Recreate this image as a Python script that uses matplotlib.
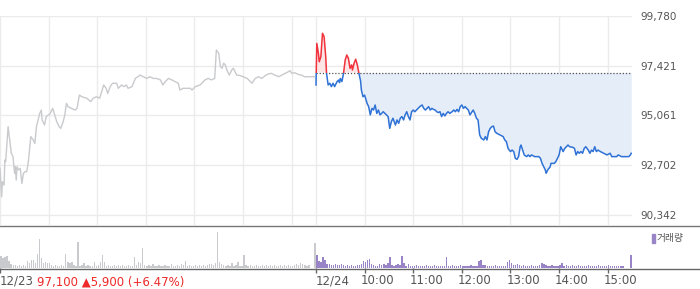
import numpy as np
import matplotlib.pyplot as plt
import matplotlib.transforms as mtransforms
from matplotlib.patches import Rectangle
from matplotlib.lines import Line2D

# === Data (minutes after 09:00) ===
BASE = 97100
price_ticks = [90342, 92702, 95061, 97421, 99780]

# 12/23 intraday
t1 = [0, 2, 3, 5, 6, 7, 10, 12, 14, 16, 18, 19, 20, 21, 23, 25, 27, 29, 31, 33, 35, 38, 41, 43, 45,
      49, 51, 52, 55, 57, 60, 62, 65, 67, 70, 73, 75, 78, 80, 82, 84, 88, 93, 95, 98, 101, 107, 112,
      115, 119, 123, 128, 131, 133, 136, 139, 144, 146, 150, 153, 156, 158, 163, 167, 173, 177, 181,
      185, 189, 193, 198, 201, 204, 208, 212, 216, 220, 222, 226, 230, 235, 237, 241, 247, 253, 257,
      261, 265, 267, 270, 272, 274, 276, 278, 280, 283, 286, 288, 292, 296, 300, 305, 309, 311, 315,
      319, 323, 327, 331, 335, 339, 344, 348, 352, 356, 358, 360, 364, 368, 372, 376, 380, 388]
p1 = [92550, 91210, 91920, 91760, 92950, 92870, 94530, 93900, 93270, 93110, 92320, 92630, 92000,
      92630, 92480, 92550, 91840, 92320, 92400, 92400, 92870, 94060, 93900, 93740, 94530, 95160,
      95320, 94850, 94610, 95010, 95090, 95160, 95400, 95160, 94770, 94530, 94450, 94770, 95090,
      95640, 95480, 95400, 95320, 95400, 96030, 95950, 95880, 95720, 95880, 95950, 95880, 96510,
      96350, 96110, 96430, 96590, 96590, 96350, 96510, 96430, 96510, 96350, 96430, 96820, 96980,
      96900, 96820, 96900, 96820, 96820, 96750, 96510, 96670, 96820, 96750, 96670, 96590, 96270,
      96350, 96350, 96350, 96270, 96430, 96510, 96750, 96820, 96750, 96820, 98170, 98010, 97380,
      97300, 97540, 97460, 97220, 96980, 97220, 97300, 96980, 96960, 96900, 96820, 96670, 96590,
      96820, 96900, 96820, 96940, 97030, 97060, 96980, 96900, 96980, 97060, 97140, 97190, 97060,
      97090, 97010, 96980, 96900, 96900, 96900]

# 12/24 intraday
t2 = [0, 1, 3, 4, 6, 8, 10, 12, 13, 15, 17, 19, 21, 23, 26, 28, 29, 30, 32, 34, 36, 38, 40, 42,
      44, 45, 47, 49, 51, 53, 55, 56, 58, 60, 63, 65, 67, 69, 71, 73, 75, 77, 79, 81, 83, 85, 87,
      89, 91, 93, 95, 98, 100, 102, 104, 106, 108, 110, 112, 114, 116, 118, 120, 122, 124, 126,
      128, 131, 133, 135, 137, 139, 141, 143, 145, 147, 149, 151, 153, 155, 157, 159, 161, 163,
      165, 168, 170, 172, 174, 176, 178, 180, 182, 184, 186, 188, 190, 194, 196, 198, 200, 202,
      204, 207, 209, 211, 213, 215, 217, 219, 221, 223, 227, 231, 233, 235, 237, 240, 242, 244,
      246, 248, 250, 252, 253, 255, 257, 260, 262, 264, 266, 270, 275, 277, 279, 281, 283, 284,
      286, 289, 290, 294, 296, 298, 300, 302, 305, 307, 311, 313, 317, 319, 321, 323, 325, 327,
      329, 331, 333, 336, 338, 340, 342, 344, 346, 348, 351, 355, 359, 363, 365, 371, 373, 377,
      386, 388, 389]
p2 = [96510, 98480, 98010, 97610, 97850, 98960, 98800, 97850, 97060, 96510, 96590, 96430, 96590,
      96430, 96670, 96740, 96620, 96820, 96670, 97060, 97690, 97930, 97770, 97300, 97460, 97220,
      97540, 97730, 97460, 97060, 96700, 96270, 95950, 96030, 95640, 95480, 95090, 95400, 95320,
      95560, 95160, 95320, 95090, 95160, 95240, 95160, 95090, 95010, 94450, 94770, 94930, 94610,
      94850, 94690, 94930, 95010, 94850, 95090, 95240, 95010, 94850, 95240, 95320, 95240, 95320,
      95400, 95480, 95560, 95400, 95320, 95400, 95480, 95320, 95400, 95350, 95320, 95240, 95200,
      95240, 95010, 95160, 95040, 95160, 95240, 95160, 95240, 95320, 95240, 95350, 95240, 95480,
      95560, 95400, 95480, 95400, 95320, 95090, 95320, 95160, 94930, 94850, 94140, 93980, 93900,
      94060, 93900, 94290, 94450, 94530, 94560, 94290, 94220, 94140, 94060, 93900, 93820, 93500,
      93350, 93420, 93350, 93030, 92980, 93110, 93580, 93660, 93420, 93190, 93110, 93190, 93110,
      93190, 93110, 93110, 93030, 92790, 92630, 92480, 92320, 92480, 92630, 92790, 92790, 92870,
      93030, 93190, 93580, 93350, 93500, 93660, 93580, 93550, 93500, 93190, 93350, 93270, 93350,
      93270, 93500, 93580, 93420, 93270, 93420, 93350, 93580, 93350, 93420, 93350, 93270, 93190,
      93270, 93110, 93110, 93190, 93110, 93110, 93190, 93270]

# volume per 2.5 minute bin (thousand shares)
vol1 = [12, 10, 11, 12, 7, 4, 3, 3, 2, 3,
        2, 3, 2, 7, 5, 8, 8, 5, 14, 29,
        10, 5, 6, 5, 5, 3, 2, 3, 2, 2,
        3, 2, 14, 6, 5, 6, 3, 2, 26, 2,
        3, 5, 2, 3, 2, 2, 6, 2, 3, 6,
        13, 6, 2, 3, 2, 2, 3, 2, 3, 2,
        3, 2, 2, 3, 2, 2, 11, 3, 6, 5,
        20, 3, 2, 3, 2, 4, 2, 2, 3, 2,
        2, 3, 2, 2, 4, 2, 2, 3, 2, 4,
        3, 7, 2, 3, 2, 2, 3, 2, 3, 2,
        3, 2, 3, 4, 4, 3, 5, 36, 6, 4,
        3, 2, 3, 2, 5, 2, 3, 6, 2, 2,
        13, 3, 2, 3, 2, 2, 3, 2, 2, 3,
        2, 3, 2, 3, 2, 3, 2, 2, 3, 2,
        3, 2, 3, 2, 2, 3, 4, 3, 5, 4,
        3, 2, 3, 0, 0, 25]
vol2 = [13, 7, 6, 11, 8, 4, 4, 3, 3, 4,
        3, 3, 4, 3, 2, 3, 2, 3, 2, 2,
        3, 3, 4, 7, 6, 8, 9, 4, 3, 2,
        2, 4, 3, 4, 3, 5, 11, 3, 2, 3,
        4, 3, 12, 5, 2, 4, 2, 2, 2, 3,
        2, 2, 2, 2, 3, 2, 2, 2, 3, 2,
        2, 2, 2, 2, 11, 2, 2, 3, 2, 2,
        2, 3, 2, 2, 2, 2, 3, 2, 2, 2,
        7, 8, 3, 3, 2, 2, 2, 2, 3, 2,
        2, 2, 2, 2, 6, 8, 5, 3, 3, 4,
        3, 2, 3, 2, 2, 2, 3, 2, 2, 2,
        3, 5, 4, 3, 2, 2, 3, 2, 2, 2,
        3, 5, 2, 3, 2, 2, 3, 2, 2, 3,
        2, 2, 2, 2, 3, 2, 2, 2, 2, 3,
        2, 2, 2, 2, 3, 2, 2, 2, 2, 2,
        2, 2, 0, 0, 0, 13]

hour_labels = ['10:00', '11:00', '12:00', '13:00', '14:00', '15:00']

# === Styling ===
W, H = 700, 289
grey_line = '#c9cacd'
blue = '#2f72d6'
red = '#f0323c'
grid_c = '#ebebeb'
text_c = '#555555'

fig = plt.figure(figsize=(W / 100, H / 100), dpi=100)
ax = fig.add_axes([0, 1 - 225 / H, 632 / W, (225 - 16) / H])
axv = fig.add_axes([0, 1 - 268 / H, 632 / W, 43 / H], sharex=ax)

x1 = np.array(t1)
x2 = np.array(t2) + 390
y2 = np.array(p2)

ax.set_xlim(0, 780)
ax.set_ylim(89867, 99780)

# grids
for xv in list(range(0, 390, 60)) + [390] + list(range(450, 780, 60)):
    ax.axvline(xv, color=grid_c, lw=1, zorder=0)
for yv in price_ticks:
    ax.axhline(yv, color=grid_c, lw=1, zorder=0)

# fills
ax.fill_between(x2, y2, BASE, where=y2 > BASE, interpolate=True, color='#fde5e6', lw=0, zorder=1)
ax.fill_between(x2, y2, BASE, where=(y2 < BASE) & (x2 >= 443), interpolate=True,
                color='#e5edf9', lw=0, zorder=1)

ax.plot([390, 780], [BASE, BASE], color='#555555', lw=0.9, ls=(0, (1, 1.5)), zorder=2)

ax.plot(x1, p1, color=grey_line, lw=1, zorder=3)
lb, = ax.plot(x2, y2, color=blue, lw=1.1, zorder=3)
lr, = ax.plot(x2, y2, color=red, lw=1.1, zorder=3)
lb.set_clip_path(Rectangle((0, 80000), 780, BASE - 80000, transform=ax.transData))
lr.set_clip_path(Rectangle((0, BASE), 780, 10000, transform=ax.transData))

ax.yaxis.tick_right()
ax.set_yticks(price_ticks)
ax.set_yticklabels([f'{v:,}' for v in price_ticks])
ax.tick_params(axis='y', length=0, pad=6, labelsize=7.5, labelcolor=text_c)
ax.tick_params(axis='x', bottom=False, labelbottom=False)
for s in ax.spines.values():
    s.set_visible(False)

# volume
vx1 = np.arange(len(vol1)) * 2.5 + 1.25
vx2 = np.arange(len(vol2)) * 2.5 + 1.25 + 390
axv.bar(vx1, vol1, width=1.6, color='#c8cacd', lw=0)
axv.bar(vx2, vol2, width=1.6, color='#9a84c8', lw=0)
axv.set_ylim(0, 43)
axv.set_yticks([])
for s in axv.spines.values():
    s.set_visible(False)
axv.set_xticks([0, 390] + list(range(450, 780, 60)))
axv.set_xticklabels(['12/23', '12/24'] + hour_labels)
axv.tick_params(axis='x', length=3.5, width=1, color='#666666', pad=1,
                labelsize=8.5, labelcolor=text_c)
# labels sit just right of their ticks
shift = mtransforms.ScaledTranslation(-4 / 100, 0, fig.dpi_scale_trans)
for k, lab in enumerate(axv.get_xticklabels()):
    lab.set_horizontalalignment('left')
    if k >= 2:
        lab.set_transform(lab.get_transform() + shift)

# full-width rules
fig.add_artist(Line2D([0, 1], [1 - 225.5 / H] * 2, color='#777777', lw=1))
fig.add_artist(Line2D([0, 1], [1 - 268.5 / H] * 2, color='#666666', lw=1))

fig.text(37 / W, 1 - 282 / H, '97,100 \u25b25,900 (+6.47%)', color='#ee2a2a',
         fontsize=8.5, va='center', ha='left')

fig.add_artist(Rectangle((652 / W, 1 - 243 / H), 3 / W, 9 / H, color='#9a84c8',
                         transform=fig.transFigure))
fig.text(657 / W, 1 - 238.5 / H, '거래량', color=text_c, fontsize=7,
         va='center', ha='left', family=['Noto Sans CJK KR', 'DejaVu Sans'])

fig.savefig('out.png', dpi=100)
